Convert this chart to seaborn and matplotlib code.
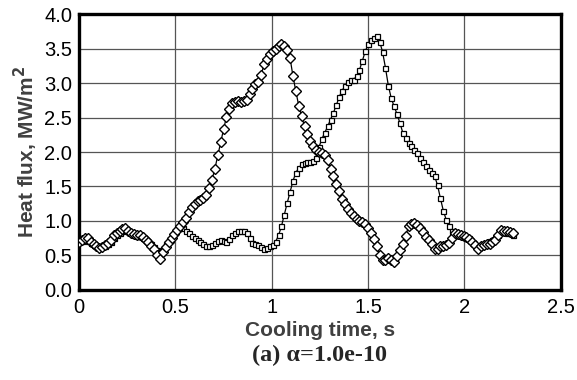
import numpy as np
import pandas as pd
import matplotlib
matplotlib.use("Agg")
import matplotlib.pyplot as plt
import seaborn as sns

# sampling times (s)
time_s = np.round(np.arange(0, 151) * 0.015, 3)

# heat flux, diamond series (MW/m^2)
flux_diamond = [
    0.70, 0.73, 0.76, 0.76, 0.70, 0.66, 0.63, 0.61, 0.62, 0.65,
    0.68, 0.73, 0.80, 0.83, 0.85, 0.88, 0.90, 0.86, 0.82, 0.81,
    0.80, 0.80, 0.77, 0.73, 0.69, 0.64, 0.59, 0.50, 0.45, 0.55,
    0.62, 0.69, 0.75, 0.81, 0.87, 0.93, 0.98, 1.04, 1.13, 1.20,
    1.25, 1.29, 1.31, 1.34, 1.38, 1.48, 1.60, 1.76, 1.95, 2.14,
    2.33, 2.51, 2.62, 2.71, 2.73, 2.74, 2.73, 2.74, 2.76, 2.84,
    2.92, 2.98, 3.02, 3.12, 3.27, 3.35, 3.42, 3.47, 3.50, 3.53,
    3.57, 3.54, 3.48, 3.36, 3.10, 2.88, 2.67, 2.52, 2.37, 2.26,
    2.16, 2.09, 2.03, 2.00, 1.98, 1.96, 1.88, 1.76, 1.65, 1.54,
    1.43, 1.32, 1.24, 1.17, 1.11, 1.07, 1.03, 1.00, 0.98, 0.96,
    0.90, 0.83, 0.74, 0.63, 0.51, 0.43, 0.44, 0.46, 0.44, 0.41,
    0.49, 0.58, 0.66, 0.78, 0.93, 0.96, 0.97, 0.94, 0.90, 0.84,
    0.77, 0.72, 0.66, 0.59, 0.60, 0.63, 0.64, 0.65, 0.68, 0.75,
    0.82, 0.81, 0.79, 0.78, 0.77, 0.74, 0.70, 0.65, 0.60, 0.63,
    0.65, 0.66, 0.67, 0.69, 0.73, 0.80, 0.87, 0.86, 0.85, 0.84,
    0.82,
]

# heat flux, square series (MW/m^2)
flux_square = [
    0.70, 0.71, 0.72, 0.71, 0.68, 0.65, 0.63, 0.62, 0.63, 0.64,
    0.66, 0.70, 0.75, 0.79, 0.82, 0.85, 0.87, 0.85, 0.82, 0.80,
    0.78, 0.78, 0.76, 0.73, 0.70, 0.66, 0.62, 0.58, 0.55, 0.60,
    0.66, 0.72, 0.78, 0.83, 0.88, 0.92, 0.90, 0.86, 0.82, 0.78,
    0.75, 0.72, 0.70, 0.67, 0.64, 0.63, 0.65, 0.68, 0.71, 0.72,
    0.71, 0.70, 0.74, 0.79, 0.82, 0.85, 0.86, 0.85, 0.83, 0.76,
    0.68, 0.66, 0.65, 0.62, 0.60, 0.61, 0.63, 0.65, 0.70, 0.79,
    0.92, 1.09, 1.26, 1.42, 1.58, 1.70, 1.77, 1.82, 1.84, 1.85,
    1.86, 1.87, 1.92, 2.07, 2.19, 2.28, 2.37, 2.47, 2.57, 2.68,
    2.80, 2.89, 2.96, 3.02, 3.04, 3.05, 3.10, 3.19, 3.32, 3.46,
    3.56, 3.62, 3.66, 3.68, 3.60, 3.45, 3.22, 2.96, 2.78, 2.66,
    2.55, 2.42, 2.28, 2.20, 2.13, 2.08, 2.03, 1.98, 1.92, 1.86,
    1.80, 1.74, 1.69, 1.65, 1.52, 1.33, 1.15, 1.02, 0.92, 0.85,
    0.82, 0.80, 0.78, 0.77, 0.77, 0.75, 0.69, 0.65, 0.64, 0.65,
    0.66, 0.68, 0.71, 0.73, 0.75, 0.79, 0.84, 0.84, 0.83, 0.82,
    0.80,
]

x_ticks = [0, 0.5, 1, 1.5, 2, 2.5]
x_tick_labels = ["0", "0.5", "1", "1.5", "2", "2.5"]
y_ticks = [0.0, 0.5, 1.0, 1.5, 2.0, 2.5, 3.0, 3.5, 4.0]
y_tick_labels = ["0.0", "0.5", "1.0", "1.5", "2.0", "2.5", "3.0", "3.5", "4.0"]

df_d = pd.DataFrame({"t": time_s, "q": flux_diamond})
df_s = pd.DataFrame({"t": time_s, "q": flux_square})

sns.set_theme(style="white")
plt.rcParams["font.family"] = ["Liberation Sans", "DejaVu Sans"]

fig = plt.figure(figsize=(5.77, 3.80), dpi=100)
ax = fig.add_axes([0.137, 0.237, 0.835, 0.726])

sns.lineplot(data=df_s, x="t", y="q", ax=ax, color="black", linewidth=0.9,
             marker="s", markersize=3.6, markerfacecolor="white",
             markeredgecolor="black", markeredgewidth=0.9, zorder=3)
sns.lineplot(data=df_d, x="t", y="q", ax=ax, color="black", linewidth=0.9,
             marker="D", markersize=4.8, markerfacecolor="white",
             markeredgecolor="black", markeredgewidth=1.0, zorder=4)

ax.set_xlim(0, 2.5)
ax.set_ylim(0, 4.0)
ax.set_xticks(x_ticks)
ax.set_xticklabels(x_tick_labels)
ax.set_yticks(y_ticks)
ax.set_yticklabels(y_tick_labels)
ax.tick_params(axis="both", length=0, labelsize=14.5, colors="black")
ax.tick_params(axis="x", pad=6)
ax.tick_params(axis="y", pad=5)
ax.grid(True, color="#555555", linewidth=0.9)
ax.set_axisbelow(True)
for sp in ax.spines.values():
    sp.set_color("black")
    sp.set_linewidth(2.4)

ax.set_xlabel("Cooling time, s", fontsize=15, fontweight="bold",
              color="#404040", labelpad=3)
ax.set_ylabel("Heat flux, MW/m$^\\mathbf{2}$", fontsize=15, fontweight="bold",
              color="#404040", labelpad=3)

fig.text(0.554, 0.065, "(a) α=1.0e-10", ha="center", va="center",
         fontsize=17.5, fontweight="bold", family=["Liberation Serif", "DejaVu Serif"])

fig.savefig("out.png", dpi=100)
